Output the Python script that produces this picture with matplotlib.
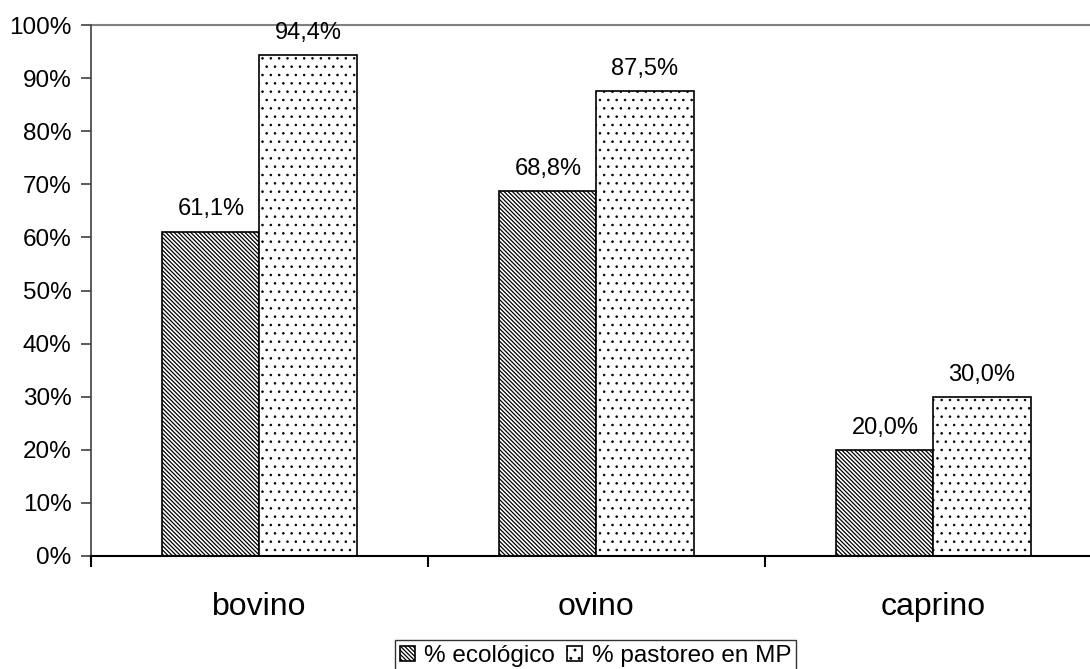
import matplotlib.pyplot as plt
import numpy as np

plt.rcParams['font.family'] = ['Liberation Sans', 'DejaVu Sans']
plt.rcParams['hatch.linewidth'] = 0.9

# Data
categories = ['bovino', 'ovino', 'caprino']
ecologico = [61.1, 68.8, 20.0]
pastoreo = [94.4, 87.5, 30.0]
series_names = ['% ecológico', '% pastoreo en MP']

fig = plt.figure(figsize=(10.9, 6.69), dpi=100)
ax = fig.add_axes([91 / 1090, 113 / 669, 1011 / 1090, 531 / 669])

x = np.arange(len(categories))
w = 0.288

b1 = ax.bar(x - w / 2, ecologico, w, color='white', edgecolor='black',
            hatch='\\' * 8, linewidth=1.2, label=series_names[0])
with plt.rc_context({'hatch.linewidth': 0.6}):
    b2 = ax.bar(x + w / 2, pastoreo, w, color='white', edgecolor='black',
                hatch='..', linewidth=1.2, label=series_names[1])

for bars, vals in [(b1, ecologico), (b2, pastoreo)]:
    for rect, v in zip(bars, vals):
        ax.text(rect.get_x() + rect.get_width() / 2, v + 2.1,
                f'{v:.1f}%'.replace('.', ','), ha='center', va='bottom',
                fontsize=17)

ax.set_xlim(-0.5, 2.5)
ax.set_ylim(0, 100)

# y axis
ax.set_yticks(np.arange(0, 101, 10))
ax.set_yticklabels([f'{t}%' for t in range(0, 101, 10)], fontsize=17.5)
ax.tick_params(axis='y', direction='out', length=7, width=1.2, color='#404040',
               pad=7)

# x axis: labels at centers, tick marks at boundaries
ax.set_xticks(x)
ax.set_xticklabels(categories, fontsize=23)
ax.tick_params(axis='x', length=0, pad=26)
ax.set_xticks([-0.5, 0.5, 1.5, 2.5], minor=True)
ax.tick_params(axis='x', which='minor', direction='out', length=8, width=1.5)

for s in ['top', 'right']:
    ax.spines[s].set_visible(False)
ax.spines['left'].set_color('#404040')
ax.spines['left'].set_linewidth(1.2)
ax.spines['bottom'].set_linewidth(1.5)
ax.axhline(100, color='#808080', linewidth=1.5, clip_on=False)

leg = fig.legend(loc='upper center', bbox_to_anchor=(595.5 / 1090, 1 - 640 / 669),
                 ncol=2, fontsize=17.5, frameon=True, fancybox=False,
                 edgecolor='black', handlelength=0.6, handleheight=0.6,
                 handletextpad=0.4, columnspacing=0.5, borderpad=0.2,
                 borderaxespad=0)
leg.get_frame().set_linewidth(1.0)

fig.savefig('out.png', dpi=100)
